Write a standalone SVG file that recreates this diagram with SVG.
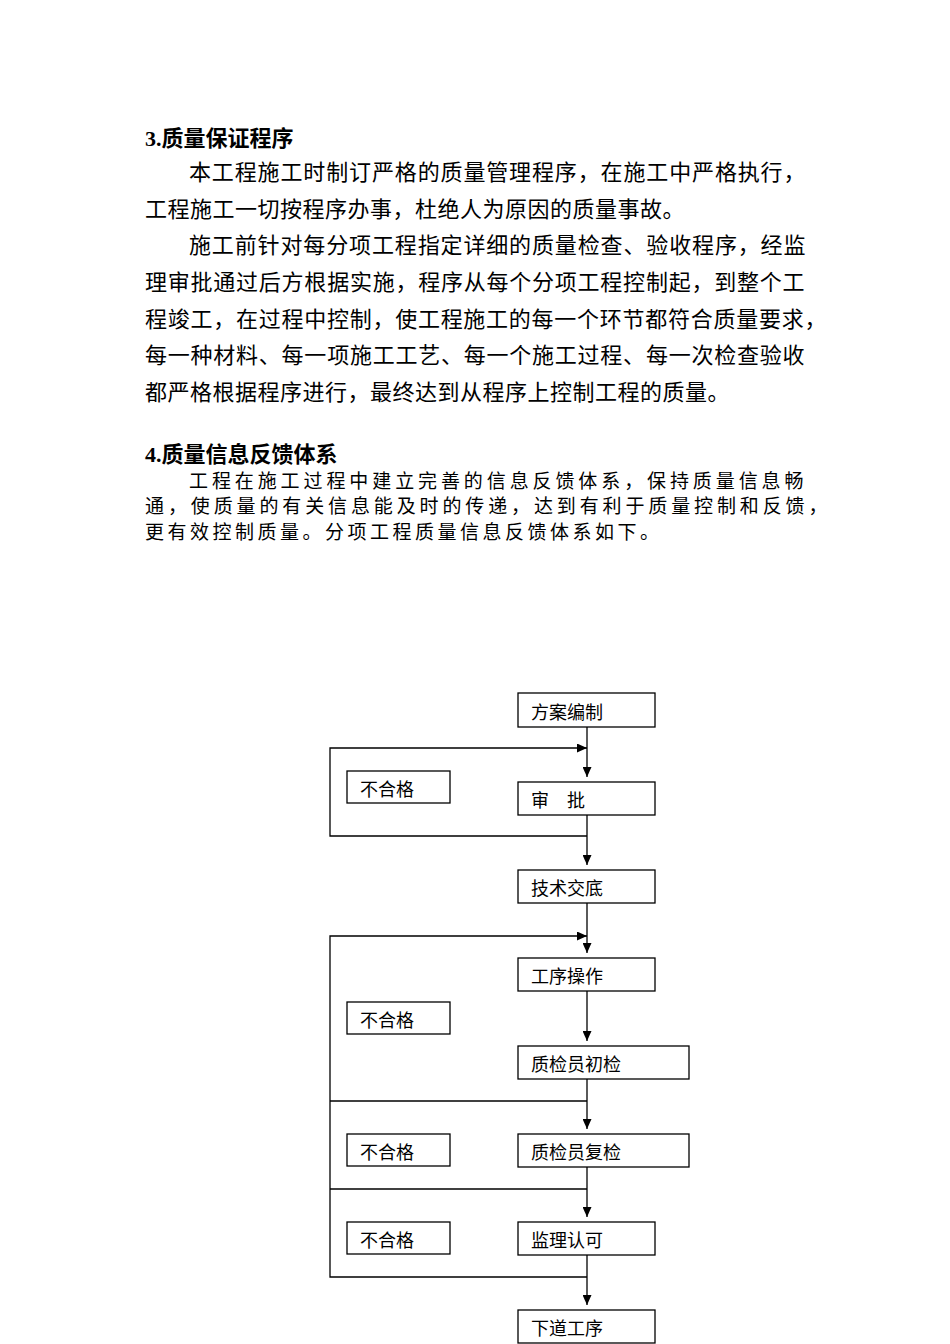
<svg xmlns="http://www.w3.org/2000/svg" width="950" height="1344" viewBox="0 0 950 1344">
<style>
.body{font-family:"Noto Sans CJK SC","Liberation Serif",serif;font-size:22px;letter-spacing:0.5px;fill:#000}
.body4{font-family:"Noto Sans CJK SC","Liberation Serif",serif;font-size:19px;letter-spacing:3.5px;fill:#000}
.head{font-family:"Liberation Serif","Noto Sans CJK SC",serif;font-size:22px;font-weight:bold;fill:#000}
.box{fill:#fff;stroke:#000;stroke-width:1.3}
.lbl{font-family:"Noto Sans CJK SC","Liberation Sans",sans-serif;font-size:18px;fill:#000}
.conn{fill:none;stroke:#000;stroke-width:1.3}
</style>
<defs>
<marker id="arr" markerUnits="userSpaceOnUse" markerWidth="10" markerHeight="9" refX="10" refY="4.5" orient="auto">
<path d="M0,0 L10,4.5 L0,9 z" fill="#000"/>
</marker>
</defs>
<rect width="950" height="1344" fill="#fff"/>
<g id="section3">
<text class="head" x="145" y="146">3.质量保证程序</text>
<text class="body" x="189" y="180" textLength="617" lengthAdjust="spacing">本工程施工时制订严格的质量管理程序，在施工中严格执行，</text>
<text class="body" x="145" y="217">工程施工一切按程序办事，杜绝人为原因的质量事故。</text>
<text class="body" x="189" y="253" textLength="617" lengthAdjust="spacing">施工前针对每分项工程指定详细的质量检查、验收程序，经监</text>
<text class="body" x="145" y="290" textLength="660" lengthAdjust="spacing">理审批通过后方根据实施，程序从每个分项工程控制起，到整个工</text>
<text class="body" x="145" y="327" textLength="682" lengthAdjust="spacing">程竣工，在过程中控制，使工程施工的每一个环节都符合质量要求，</text>
<text class="body" x="145" y="363" textLength="660" lengthAdjust="spacing">每一种材料、每一项施工工艺、每一个施工过程、每一次检查验收</text>
<text class="body" x="145" y="400">都严格根据程序进行，最终达到从程序上控制工程的质量。</text>
</g>
<g id="section4">
<text class="head" x="145" y="462">4.质量信息反馈体系</text>
<text class="body4" x="189" y="488" textLength="618" lengthAdjust="spacing">工程在施工过程中建立完善的信息反馈体系，保持质量信息畅</text>
<text class="body4" x="145" y="513" textLength="686" lengthAdjust="spacing">通，使质量的有关信息能及时的传递，达到有利于质量控制和反馈，</text>
<text class="body4" x="145" y="539">更有效控制质量。分项工程质量信息反馈体系如下。</text>
</g>
<g id="connectors">
<line class="conn" x1="587" y1="727" x2="587" y2="777" marker-end="url(#arr)"/>
<line class="conn" x1="587" y1="815" x2="587" y2="865" marker-end="url(#arr)"/>
<line class="conn" x1="587" y1="903" x2="587" y2="953" marker-end="url(#arr)"/>
<line class="conn" x1="587" y1="991" x2="587" y2="1041" marker-end="url(#arr)"/>
<line class="conn" x1="587" y1="1079" x2="587" y2="1129" marker-end="url(#arr)"/>
<line class="conn" x1="587" y1="1167" x2="587" y2="1217" marker-end="url(#arr)"/>
<line class="conn" x1="587" y1="1255" x2="587" y2="1305" marker-end="url(#arr)"/>
<path class="conn" d="M587,836 H330 V748 H587" marker-end="url(#arr)"/>
<path class="conn" d="M587,1277 H330 V936 H587" marker-end="url(#arr)"/>
<line class="conn" x1="330" y1="1101" x2="587" y2="1101"/>
<line class="conn" x1="330" y1="1189" x2="587" y2="1189"/>
</g>
<g id="n-fangan"><rect class="box" x="518" y="693" width="137" height="34"/><text class="lbl" x="531" y="719">方案编制</text></g>
<g id="n-shenpi"><rect class="box" x="518" y="782" width="137" height="33"/><text class="lbl" x="531" y="807">审　批</text></g>
<g id="n-buhege1"><rect class="box" x="347" y="771" width="103" height="32"/><text class="lbl" x="360" y="796">不合格</text></g>
<g id="n-jishu"><rect class="box" x="518" y="870" width="137" height="33"/><text class="lbl" x="531" y="895">技术交底</text></g>
<g id="n-gongxu"><rect class="box" x="518" y="958" width="137" height="33"/><text class="lbl" x="531" y="983">工序操作</text></g>
<g id="n-buhege2"><rect class="box" x="347" y="1002" width="103" height="32"/><text class="lbl" x="360" y="1027">不合格</text></g>
<g id="n-chujian"><rect class="box" x="518" y="1046" width="171" height="33"/><text class="lbl" x="531" y="1071">质检员初检</text></g>
<g id="n-buhege3"><rect class="box" x="347" y="1134" width="103" height="32"/><text class="lbl" x="360" y="1159">不合格</text></g>
<g id="n-fujian"><rect class="box" x="518" y="1134" width="171" height="33"/><text class="lbl" x="531" y="1159">质检员复检</text></g>
<g id="n-buhege4"><rect class="box" x="347" y="1222" width="103" height="32"/><text class="lbl" x="360" y="1247">不合格</text></g>
<g id="n-jianli"><rect class="box" x="518" y="1222" width="137" height="33"/><text class="lbl" x="531" y="1247">监理认可</text></g>
<g id="n-xiadao"><rect class="box" x="518" y="1310" width="137" height="33"/><text class="lbl" x="531" y="1335">下道工序</text></g>
</svg>
